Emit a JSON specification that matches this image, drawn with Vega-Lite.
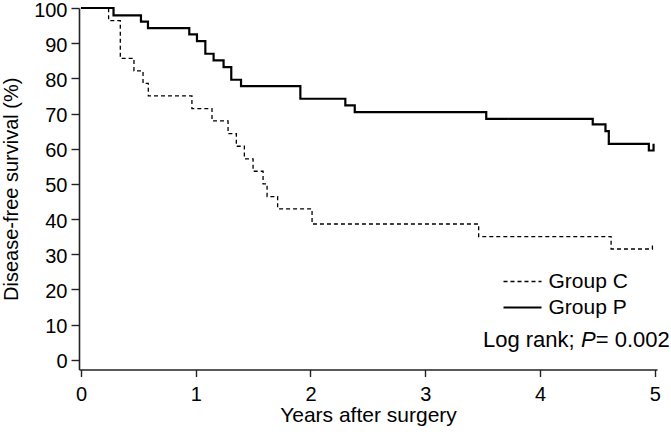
{
  "$schema": "https://vega.github.io/schema/vega-lite/v6.json",
  "width": 578,
  "height": 361.5,
  "autosize": {"type": "none"},
  "padding": {"left": 79, "top": 8, "right": 14, "bottom": 64.5},
  "background": "white",
  "config": {
    "font": "Liberation Sans",
    "view": {"stroke": null},
    "axis": {
      "domainColor": "#222222",
      "domainWidth": 1.6,
      "tickColor": "#222222",
      "tickWidth": 1.4,
      "tickSize": 8,
      "grid": false,
      "labelFont": "Liberation Sans",
      "labelFontSize": 20,
      "labelColor": "black",
      "titleFont": "Liberation Sans",
      "titleFontSize": 21,
      "titleFontWeight": "normal",
      "titleColor": "black"
    }
  },
  "datasets": {
    "km": [
      {"group": "Group C", "years": 0, "survival": 100},
      {"group": "Group C", "years": 0.241, "survival": 96.4},
      {"group": "Group C", "years": 0.343, "survival": 85.7},
      {"group": "Group C", "years": 0.462, "survival": 82.1},
      {"group": "Group C", "years": 0.541, "survival": 78.6},
      {"group": "Group C", "years": 0.587, "survival": 75.0},
      {"group": "Group C", "years": 0.967, "survival": 71.4},
      {"group": "Group C", "years": 1.142, "survival": 67.9},
      {"group": "Group C", "years": 1.282, "survival": 64.3},
      {"group": "Group C", "years": 1.354, "survival": 60.7},
      {"group": "Group C", "years": 1.424, "survival": 57.1},
      {"group": "Group C", "years": 1.5, "survival": 53.6},
      {"group": "Group C", "years": 1.587, "survival": 50.0},
      {"group": "Group C", "years": 1.622, "survival": 46.4},
      {"group": "Group C", "years": 1.714, "survival": 42.9},
      {"group": "Group C", "years": 2.014, "survival": 38.6},
      {"group": "Group C", "years": 3.466, "survival": 35.0},
      {"group": "Group C", "years": 4.62, "survival": 31.5},
      {"group": "Group C", "years": 4.98, "survival": 32.8},
      {"group": "Group P", "years": 0, "survival": 100},
      {"group": "Group P", "years": 0.284, "survival": 97.9},
      {"group": "Group P", "years": 0.523, "survival": 96.1},
      {"group": "Group P", "years": 0.584, "survival": 94.3},
      {"group": "Group P", "years": 0.944, "survival": 92.5},
      {"group": "Group P", "years": 1.011, "survival": 90.6},
      {"group": "Group P", "years": 1.084, "survival": 87.0},
      {"group": "Group P", "years": 1.156, "survival": 85.1},
      {"group": "Group P", "years": 1.243, "survival": 83.2},
      {"group": "Group P", "years": 1.31, "survival": 79.6},
      {"group": "Group P", "years": 1.395, "survival": 77.8},
      {"group": "Group P", "years": 1.912, "survival": 74.2},
      {"group": "Group P", "years": 2.304, "survival": 72.3},
      {"group": "Group P", "years": 2.386, "survival": 70.4},
      {"group": "Group P", "years": 3.532, "survival": 68.5},
      {"group": "Group P", "years": 4.46, "survival": 66.9},
      {"group": "Group P", "years": 4.571, "survival": 65.0},
      {"group": "Group P", "years": 4.6, "survival": 61.4},
      {"group": "Group P", "years": 4.949, "survival": 59.5},
      {"group": "Group P", "years": 4.99, "survival": 61.4}
    ],
    "note": [{"stat": "Log rank", "p": "0.002"}]
  },
  "encoding": {
    "x": {
      "type": "quantitative",
      "scale": {"domain": [-0.017, 5.02], "nice": false, "zero": false},
      "axis": {"values": [0, 1, 2, 3, 4, 5], "format": "d", "title": "Years after surgery", "labelPadding": 8, "titlePadding": 0, "tickSize": 7}
    },
    "y": {
      "type": "quantitative",
      "scale": {"domain": [-2.76, 100], "nice": false, "zero": false},
      "axis": {"values": [0, 10, 20, 30, 40, 50, 60, 70, 80, 90, 100], "format": "d", "title": "Disease-free survival (%)", "titleFontSize": 20, "labelPadding": 4, "labelOffset": 2, "titlePadding": 12}
    }
  },
  "layer": [
    {
      "data": {"name": "km"},
      "mark": {"type": "line", "interpolate": "step-after", "color": "black", "strokeCap": "butt"},
      "encoding": {
        "x": {"field": "years", "type": "quantitative"},
        "y": {"field": "survival", "type": "quantitative"},
        "strokeDash": {
          "field": "group", "type": "nominal",
          "scale": {"domain": ["Group C", "Group P"], "range": [[4, 3], [1, 0]]},
          "legend": {
            "title": null,
            "orient": "none",
            "legendX": 432.5,
            "legendY": 263,
            "padding": 0,
            "symbolType": "M-2,0H2",
            "symbolSize": 361,
            "symbolStrokeColor": "black",
            "symbolStrokeWidth": 1.6,
            "labelFontSize": 21,
            "labelFont": "Liberation Sans",
            "labelColor": "black",
            "labelOffset": 15,
            "rowPadding": 4.5
          }
        },
        "strokeWidth": {
          "field": "group", "type": "ordinal",
          "scale": {"domain": ["Group C", "Group P"], "range": [1.3, 2.2]},
          "legend": null
        }
      }
    },
    {
      "data": {"name": "note"},
      "mark": {"type": "text", "align": "right", "baseline": "middle", "fontSize": 22, "font": "Liberation Sans", "dx": 15, "color": "black"},
      "encoding": {"x": {"datum": 5, "type": "quantitative"}, "y": {"datum": 5.5, "type": "quantitative"}, "text": {"field": "p", "type": "nominal"}}
    },
    {
      "data": {"name": "note"},
      "mark": {"type": "text", "align": "right", "baseline": "middle", "fontSize": 22, "font": "Liberation Sans", "dx": -46, "color": "black", "text": "="},
      "encoding": {"x": {"datum": 5, "type": "quantitative"}, "y": {"datum": 5.5, "type": "quantitative"}}
    },
    {
      "data": {"name": "note"},
      "mark": {"type": "text", "align": "right", "baseline": "middle", "fontSize": 22, "font": "Liberation Sans", "fontStyle": "italic", "dx": -59, "color": "black", "text": "P"},
      "encoding": {"x": {"datum": 5, "type": "quantitative"}, "y": {"datum": 5.5, "type": "quantitative"}}
    },
    {
      "data": {"name": "note"},
      "mark": {"type": "text", "align": "right", "baseline": "middle", "fontSize": 22, "font": "Liberation Sans", "dx": -80, "color": "black", "text": "Log rank;"},
      "encoding": {"x": {"datum": 5, "type": "quantitative"}, "y": {"datum": 5.5, "type": "quantitative"}}
    }
  ]
}
